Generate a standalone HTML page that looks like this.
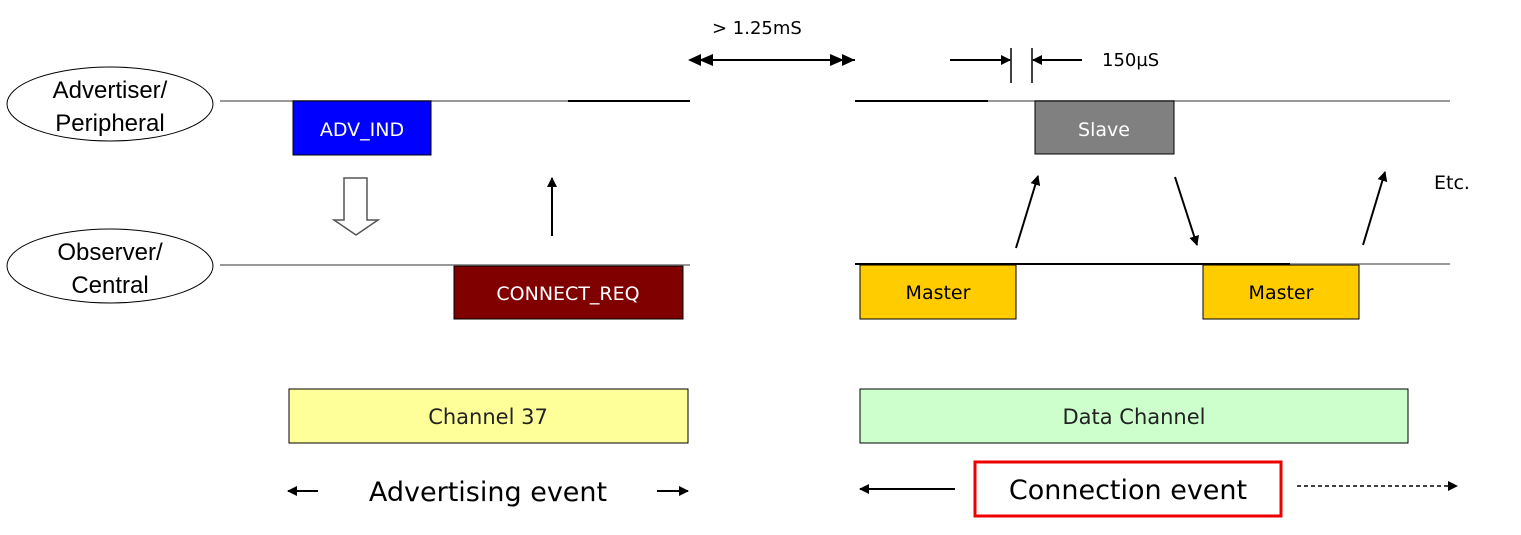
<!DOCTYPE html>
<html><head><meta charset="utf-8"><style>
html,body{margin:0;padding:0;background:#fff;}
svg{display:block;}
text{font-family:"DejaVu Sans","Liberation Sans",sans-serif;}
</style></head><body>
<svg width="1521" height="535" viewBox="0 0 1521 535" xmlns="http://www.w3.org/2000/svg">
<defs>
<marker id="ah" markerWidth="10" markerHeight="10" refX="9" refY="5" orient="auto" markerUnits="userSpaceOnUse"><path d="M0,0 L10,5 L0,10 z" fill="#000"/></marker>
<marker id="ah2" markerWidth="14" markerHeight="12" refX="13" refY="6" orient="auto" markerUnits="userSpaceOnUse"><path d="M0,0 L14,6 L0,12 z" fill="#000"/></marker>
</defs>
<!-- ellipses -->
<ellipse cx="110" cy="104" rx="103" ry="37" fill="#fff" stroke="#000" stroke-width="1"/>
<text x="110" y="98" font-family="Liberation Sans" font-size="24" text-anchor="middle" style="font-family:'Liberation Sans',sans-serif">Advertiser/</text>
<text x="110" y="131" font-size="24" text-anchor="middle" style="font-family:'Liberation Sans',sans-serif">Peripheral</text>
<ellipse cx="110" cy="266" rx="103" ry="37" fill="#fff" stroke="#000" stroke-width="1"/>
<text x="110" y="260" font-size="24" text-anchor="middle" style="font-family:'Liberation Sans',sans-serif">Observer/</text>
<text x="110" y="293" font-size="24" text-anchor="middle" style="font-family:'Liberation Sans',sans-serif">Central</text>
<!-- lines left -->
<line x1="220" y1="101" x2="568" y2="101" stroke="#999" stroke-width="2"/>
<line x1="568" y1="101" x2="690" y2="101" stroke="#000" stroke-width="2"/>
<line x1="220" y1="265" x2="690" y2="265" stroke="#999" stroke-width="2"/>
<rect x="293" y="101" width="138" height="54" fill="#0000ff" stroke="#000"/>
<text x="362" y="136" font-size="19" fill="#fff" text-anchor="middle">ADV_IND</text>
<!-- hollow arrow -->
<path d="M344,178 L367,178 L367,220 L378,220 L356,235 L334,220 L344,220 z" fill="#fff" stroke="#555" stroke-width="1.5"/>
<line x1="552" y1="236" x2="552" y2="178" stroke="#000" stroke-width="2" marker-end="url(#ah)"/>
<rect x="454" y="266" width="229" height="53" fill="#800000" stroke="#000"/>
<text x="568" y="300" font-size="19" fill="#fff" text-anchor="middle">CONNECT_REQ</text>
<!-- 1.25ms -->
<text x="712" y="34" font-size="18">&gt; 1.25mS</text>
<line x1="700" y1="60" x2="843" y2="60" stroke="#000" stroke-width="2" marker-end="url(#ah2)"/>
<line x1="843" y1="60" x2="700" y2="60" stroke="#000" stroke-width="2" marker-end="url(#ah2)"/>
<line x1="690" y1="60" x2="855" y2="60" stroke="#000" stroke-width="2"/>
<path d="M688,60 L701,54 L701,66 z" fill="#000"/>
<path d="M855,60 L842,54 L842,66 z" fill="#000"/>
<!-- 150us -->
<line x1="1011" y1="48" x2="1011" y2="83" stroke="#000" stroke-width="1.5"/>
<line x1="1032" y1="48" x2="1032" y2="83" stroke="#000" stroke-width="1.5"/>
<line x1="950" y1="60" x2="1010" y2="60" stroke="#000" stroke-width="2" marker-end="url(#ah)"/>
<line x1="1082" y1="60" x2="1033" y2="60" stroke="#000" stroke-width="2" marker-end="url(#ah)"/>
<text x="1102" y="66" font-size="18">150µS</text>
<!-- right lines -->
<line x1="855" y1="101" x2="988" y2="101" stroke="#000" stroke-width="2"/>
<line x1="988" y1="101" x2="1450" y2="101" stroke="#999" stroke-width="2"/>
<line x1="855" y1="264" x2="1290" y2="264" stroke="#000" stroke-width="2"/>
<line x1="1290" y1="264" x2="1450" y2="264" stroke="#999" stroke-width="2"/>
<rect x="1035" y="101" width="139" height="53" fill="#808080" stroke="#000"/>
<text x="1104" y="136" font-size="19" fill="#fff" text-anchor="middle">Slave</text>
<rect x="860" y="265" width="156" height="54" fill="#ffcc00" stroke="#000"/>
<text x="938" y="299" font-size="19" text-anchor="middle">Master</text>
<rect x="1203" y="265" width="156" height="54" fill="#ffcc00" stroke="#000"/>
<text x="1281" y="299" font-size="19" text-anchor="middle">Master</text>
<line x1="1016" y1="248" x2="1038" y2="176" stroke="#000" stroke-width="2" marker-end="url(#ah)"/>
<line x1="1175" y1="177" x2="1197" y2="245" stroke="#000" stroke-width="2" marker-end="url(#ah)"/>
<line x1="1363" y1="245" x2="1385" y2="172" stroke="#000" stroke-width="2" marker-end="url(#ah)"/>
<text x="1434" y="189" font-size="19">Etc.</text>
<!-- channels -->
<rect x="289" y="389" width="399" height="54" fill="#ffff99" stroke="#000"/>
<text x="488" y="424" font-size="21" text-anchor="middle" fill="#222">Channel 37</text>
<rect x="860" y="389" width="548" height="54" fill="#ccffcc" stroke="#000"/>
<text x="1134" y="424" font-size="21" text-anchor="middle" fill="#222">Data Channel</text>
<!-- events -->
<line x1="318" y1="491" x2="288" y2="491" stroke="#000" stroke-width="2" marker-end="url(#ah)"/>
<text x="488" y="501" font-size="27" text-anchor="middle">Advertising event</text>
<line x1="657" y1="491" x2="688" y2="491" stroke="#000" stroke-width="2" marker-end="url(#ah)"/>
<line x1="955" y1="489" x2="860" y2="489" stroke="#000" stroke-width="2" marker-end="url(#ah)"/>
<rect x="975" y="462" width="306" height="54" fill="none" stroke="#ee0000" stroke-width="3"/>
<text x="1128" y="499" font-size="27" text-anchor="middle">Connection event</text>
<line x1="1297" y1="486" x2="1457" y2="486" stroke="#000" stroke-width="1.5" stroke-dasharray="4,3" marker-end="url(#ah)"/>
</svg>
</body></html>
